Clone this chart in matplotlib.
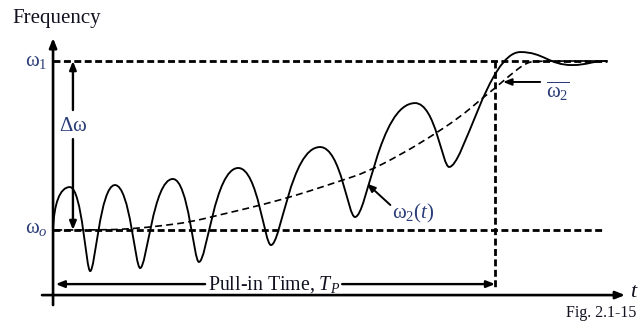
import numpy as np
import matplotlib
matplotlib.use("Agg")
import matplotlib.pyplot as plt
from matplotlib.path import Path
from matplotlib.patches import PathPatch

# Police type Times
plt.rcParams['font.family'] = ['Liberation Serif', 'DejaVu Serif']
plt.rcParams['mathtext.fontset'] = 'custom'
plt.rcParams['mathtext.rm'] = 'Liberation Serif'
plt.rcParams['mathtext.it'] = 'Liberation Serif:italic'
plt.rcParams['lines.scale_dashes'] = False

# Données : temps normalisé (T_P = 1), fréquence normalisée (w0 = 0, w1 = 1)
# extrema de la courbe w2(t) (début, pics, creux, fin)
t_ext = [0.000, 0.038, 0.084, 0.140, 0.197, 0.271, 0.330, 0.419, 0.493,
         0.604, 0.683, 0.819, 0.896, 1.057, 1.174, 1.253]
f_ext = [0.000, 0.254, -0.243, 0.266, -0.225, 0.302, -0.189, 0.367, -0.089,
         0.491, 0.077, 0.751, 0.373, 1.053, 0.976, 1.000]

# fréquence moyenne (courbe en tirets)
t_moy = [0.005, 0.107, 0.174, 0.242, 0.310, 0.376, 0.443, 0.514, 0.581,
         0.649, 0.710, 0.785, 0.853, 0.921, 0.966, 1.000, 1.034, 1.072,
         1.101, 1.253]
f_moy = [0.000, 0.000, 0.006, 0.024, 0.047, 0.089, 0.130, 0.178, 0.231,
         0.290, 0.343, 0.444, 0.550, 0.669, 0.769, 0.840, 0.917, 0.994,
         1.000, 1.000]

t_fin = 1.253      # fin des lignes w1 / w0
t_p = 1.0          # temps d'accrochage

texte = '#111120'
bleu = '#2b3d78'

fig = plt.figure(figsize=(6.41, 3.25), dpi=100)
ax = fig.add_axes([0, 0, 1, 1])
ax.set_xlim(-0.12, 1.33)
ax.set_ylim(-0.562, 1.361)
ax.axis('off')


# Courbe lisse (Bézier) passant par les extrema, tangentes horizontales
def courbe(ts, fs, fractions):
    verts = [(ts[0], fs[0])]
    codes = [Path.MOVETO]
    for i in range(len(ts) - 1):
        dx = ts[i + 1] - ts[i]
        if i == 0:
            c1 = (ts[0] + 0.05 * dx, fs[0] + 0.6 * (fs[1] - fs[0]))
        else:
            c1 = (ts[i] + fractions[i] * dx, fs[i])
        c2 = (ts[i + 1] - fractions[i + 1] * dx, fs[i + 1])
        verts += [c1, c2, (ts[i + 1], fs[i + 1])]
        codes += [Path.CURVE4] * 3
    return Path(verts, codes)


fractions = []
for i in range(len(t_ext)):
    if i >= len(t_ext) - 3:
        fractions.append(0.45)
    elif i % 2 == 1:
        fractions.append(0.6)    # pic large
    else:
        fractions.append(0.2)    # creux étroit

ax.add_patch(PathPatch(courbe(t_ext, f_ext, fractions), fill=False,
                       lw=1.35, color='black', capstyle='round'))

# Courbe moyenne en tirets (lissage quadratique)
pts = list(zip(t_moy, f_moy))
verts = [pts[0]]
codes = [Path.MOVETO]
for i in range(1, len(pts) - 1):
    mid = ((pts[i][0] + pts[i + 1][0]) / 2, (pts[i][1] + pts[i + 1][1]) / 2)
    verts += [pts[i], mid]
    codes += [Path.CURVE3, Path.CURVE3]
verts.append(pts[-1])
codes.append(Path.LINETO)
ax.add_patch(PathPatch(Path(verts, codes), fill=False, lw=1.2,
                       color='black', linestyle=(0, (5, 3))))

# Lignes w1, w0 et T_P
tiret = (0, (5, 2.5))
ax.plot([0, t_fin], [1, 1], color='black', lw=2.0, linestyle=tiret)
ax.plot([0, t_fin - 0.011], [0, 0], color='black', lw=2.0, linestyle=tiret)
ax.plot([t_p, t_p], [1, -0.345], color='black', lw=2.0, linestyle=tiret)

# Axes avec flèches
fleche = dict(arrowstyle='-|>,head_length=0.55,head_width=0.22',
              color='black', lw=1.9, shrinkA=0, shrinkB=0)
ax.annotate('', xy=(0, 1.136), xytext=(0, -0.444), arrowprops=fleche)
ax.annotate('', xy=(1.294, -0.385), xytext=(-0.025, -0.385), arrowprops=fleche)

# Flèche Pull-in Time
fleche2 = dict(arrowstyle='-|>,head_length=0.5,head_width=0.2',
               color='black', lw=1.7, shrinkA=0, shrinkB=0)
ax.annotate('', xy=(0.006, -0.32), xytext=(0.344, -0.32), arrowprops=fleche2)
ax.annotate('', xy=(t_p, -0.32), xytext=(0.654, -0.32), arrowprops=fleche2)
ax.text(0.499, -0.322, 'Pull-in Time, $T_P$', ha='center', va='center',
        fontsize=14.3, color=texte)

# Flèche delta omega
ax.annotate('', xy=(0.045, 1.0), xytext=(0.045, 0.71), arrowprops=fleche2)
ax.annotate('', xy=(0.045, 0.0), xytext=(0.045, 0.538), arrowprops=fleche2)
ax.text(0.045, 0.615, r'$\Delta\mathrm{\omega}$', ha='center', va='center',
        fontsize=15, color=bleu)

# Flèches vers w2(t) et w2 moyen
fleche3 = dict(arrowstyle='-|>,head_length=0.5,head_width=0.2',
               color='black', lw=1.4, shrinkA=0, shrinkB=0)
ax.annotate('', xy=(0.710, 0.275), xytext=(0.763, 0.148), arrowprops=fleche3)
ax.text(0.767, 0.10, r'$\mathrm{\omega}_2(t)$', ha='left', va='center',
        fontsize=15, color=bleu)
ax.annotate('', xy=(1.018, 0.876), xytext=(1.102, 0.876), arrowprops=fleche3)
ax.text(1.115, 0.82, r'$\overline{\mathrm{\omega}_2}$', ha='left', va='center',
        fontsize=15, color=bleu)

# Étiquettes
ax.text(-0.012, 1.0, r'$\mathrm{\omega}_1$', ha='right', va='center',
        fontsize=15, color=bleu)
ax.text(-0.012, 0.01, r'$\mathrm{\omega}_o$', ha='right', va='center',
        fontsize=15, color=bleu)
ax.text(-0.092, 1.254, 'Frequency', ha='left', va='center', fontsize=15,
        color=texte)
ax.text(1.306, -0.372, 't', ha='left', va='center', fontsize=16,
        style='italic', color=texte)
ax.text(1.319, -0.49, 'Fig. 2.1-15', ha='right', va='center', fontsize=11.5,
        color=texte)

fig.savefig('out.png', dpi=100)
